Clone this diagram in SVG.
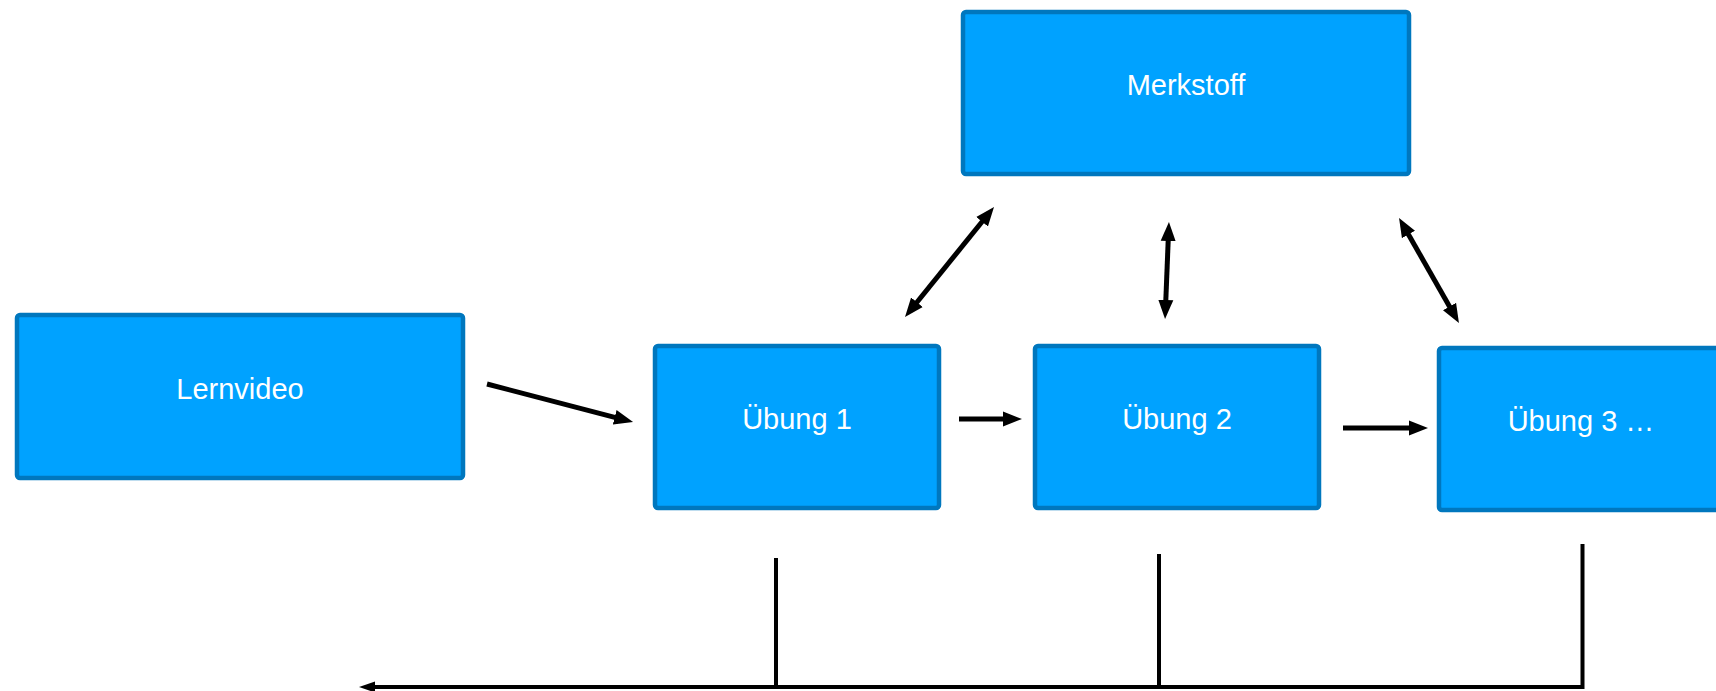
<svg xmlns="http://www.w3.org/2000/svg" width="1716" height="691" viewBox="0 0 1716 691">
  <style>
    .box { fill: #00A2FF; stroke: #0077BE; stroke-width: 4.5; }
    .lbl { font-family: "Liberation Sans", Arial, sans-serif; font-size: 29px; fill: #FFFFFF; text-anchor: middle; }
    .con { fill: none; stroke: #000000; stroke-width: 5; }
    .bus { fill: none; stroke: #000000; stroke-width: 4; }
  </style>
  <defs>
    <marker id="ah" markerUnits="userSpaceOnUse" markerWidth="19" markerHeight="16" refX="8" refY="8" orient="auto-start-reverse" viewBox="0 0 19 16">
      <path d="M0,0.5 L19,8 L0,15.5 Z" fill="#000000"/>
    </marker>
    <marker id="ahs" markerUnits="userSpaceOnUse" markerWidth="16" markerHeight="12" refX="6" refY="6" orient="auto-start-reverse" viewBox="0 0 16 12">
      <path d="M0,0.5 L16,6 L0,11.5 Z" fill="#000000"/>
    </marker>
  </defs>
  <rect x="0" y="0" width="1716" height="691" fill="#FFFFFF"/>

  <g id="node-lernvideo">
    <rect class="box" x="17" y="315" width="446" height="163" rx="3"/>
    <text class="lbl" x="240" y="399">Lernvideo</text>
  </g>
  <g id="node-merkstoff">
    <rect class="box" x="963" y="12" width="446" height="162" rx="3"/>
    <text class="lbl" x="1186" y="95">Merkstoff</text>
  </g>
  <g id="node-uebung1">
    <rect class="box" x="655" y="346" width="284" height="162" rx="3"/>
    <text class="lbl" x="797" y="429">Übung 1</text>
  </g>
  <g id="node-uebung2">
    <rect class="box" x="1035" y="346" width="284" height="162" rx="3"/>
    <text class="lbl" x="1177" y="429">Übung 2</text>
  </g>
  <g id="node-uebung3">
    <rect class="box" x="1439" y="348" width="284" height="162" rx="3"/>
    <text class="lbl" x="1581" y="431">Übung 3 …</text>
  </g>

  <g id="connectors">
    <line class="con" x1="487" y1="384" x2="622.4" y2="419.3" marker-end="url(#ah)"/>
    <line class="con" x1="959" y1="419" x2="1011" y2="419" marker-end="url(#ah)"/>
    <line class="con" x1="1343" y1="428" x2="1417" y2="428" marker-end="url(#ah)"/>
    <line class="con" x1="911.9" y1="308.5" x2="987.1" y2="215.5" marker-start="url(#ah)" marker-end="url(#ah)"/>
    <line class="con" x1="1168.5" y1="233" x2="1165.5" y2="308" marker-start="url(#ah)" marker-end="url(#ah)"/>
    <line class="con" x1="1404.5" y1="227.5" x2="1453.5" y2="313.5" marker-start="url(#ah)" marker-end="url(#ah)"/>
    <line class="bus" x1="776" y1="558" x2="776" y2="687"/>
    <line class="bus" x1="1159" y1="554" x2="1159" y2="687"/>
    <path class="bus" d="M1582.5,544 V687 H369" stroke-width="4.5" marker-end="url(#ahs)"/>
  </g>
</svg>
